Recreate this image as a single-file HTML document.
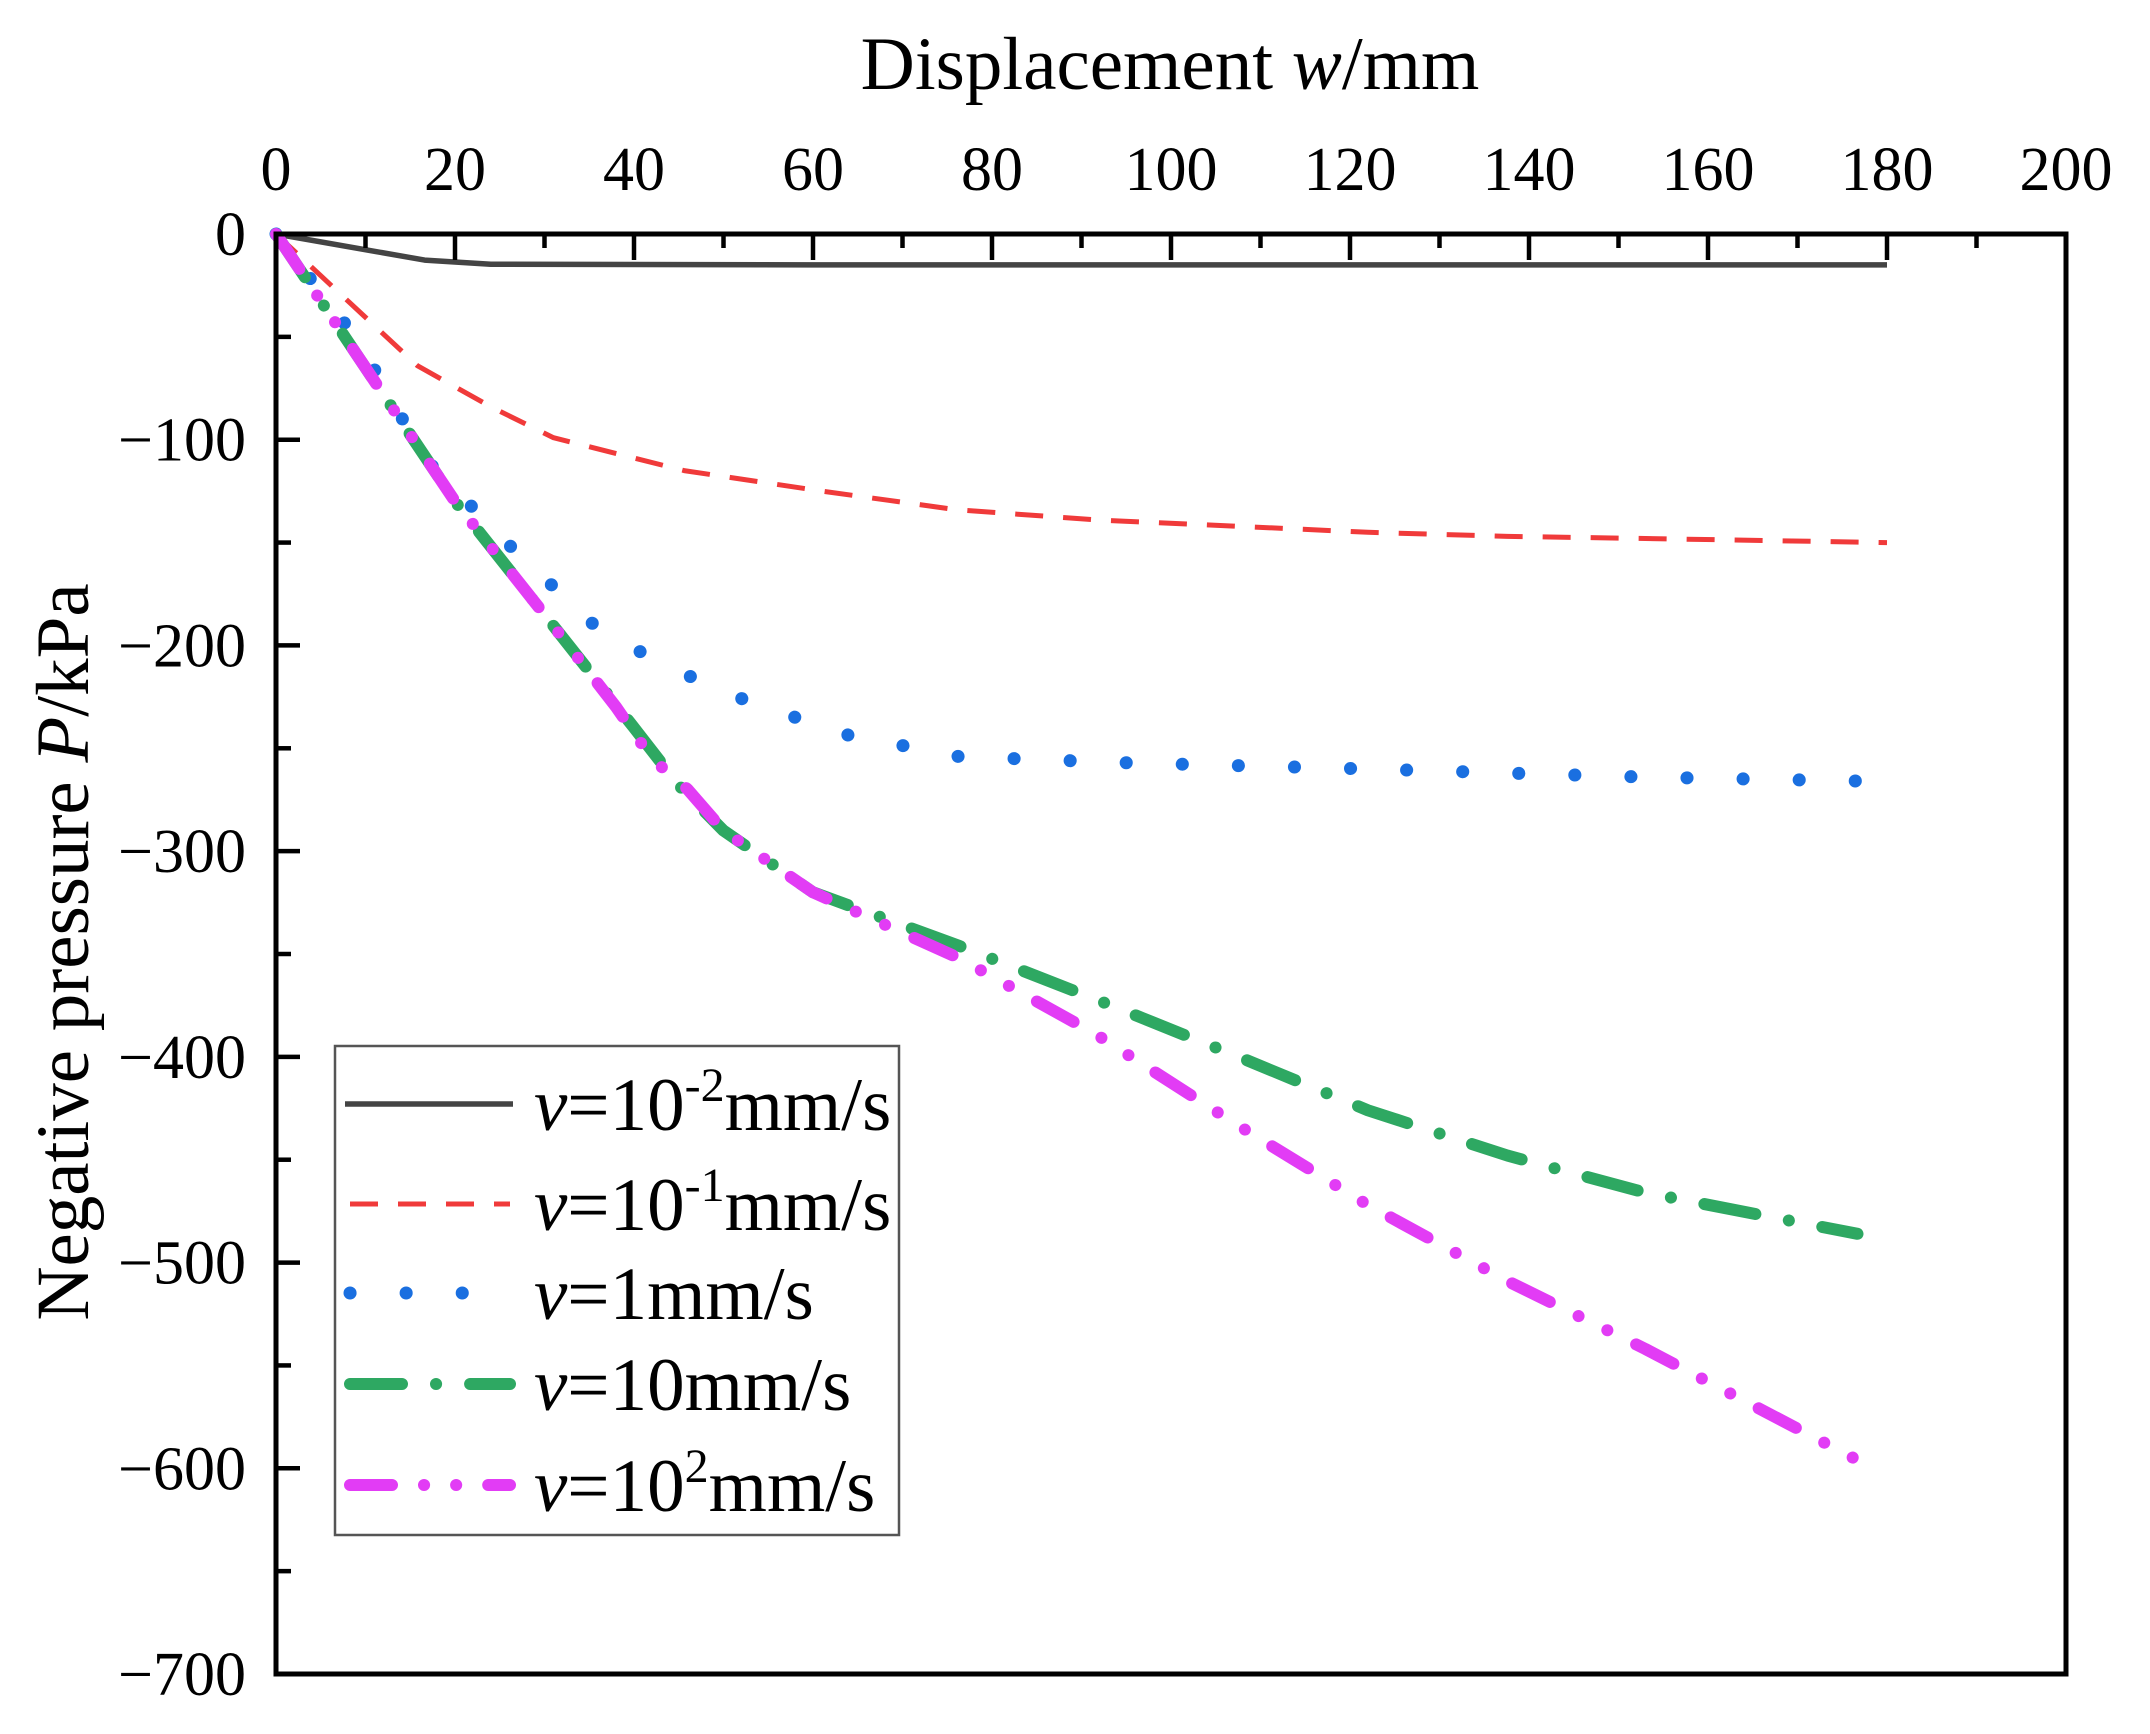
<!DOCTYPE html>
<html><head><meta charset="utf-8"><style>
html,body{margin:0;padding:0;background:#fff;}
svg{display:block;font-family:"Liberation Serif","DejaVu Serif",serif;}
</style></head><body>
<svg id="chart" width="2150" height="1734" viewBox="0 0 2150 1734" xmlns="http://www.w3.org/2000/svg">
<rect width="2150" height="1734" fill="#fff"/>
<g id="series"></g>
<g id="axes"></g>
<text x="1170" y="89" font-size="75" text-anchor="middle">Displacement <tspan font-style="italic">w</tspan>/mm</text>
<text transform="translate(88,952) rotate(-90)" font-size="75" text-anchor="middle">Negative pressure <tspan font-style="italic">P</tspan>/kPa</text>
<g id="legend"></g>
</svg>
<script>
const xTicks = [0,20,40,60,80,100,120,140,160,180,200];
const yTicks = [0,-100,-200,-300,-400,-500,-600,-700];
const seriesNames = ["v=10^-2","v=10^-1","v=1","v=10","v=10^2"];
const xBlack = [0,16.6,24,60,100,140,180];
const yBlack = [0,-12.7,-14.7,-15,-15,-15,-15];
const xRed = [0,15.8,24,31,45.6,61,76,91.6,107,122,137.6,153,180];
const yRed = [0,-64,-84,-99,-115,-125,-134,-139,-142,-145,-147,-148,-150];
const xBlue = [0,9.2,16.6,26,36.5,49.5,63.3,76.3,94.7,122,153,178];
const yBlue = [0,-52,-109,-151,-194,-222,-243,-254,-257,-260,-264,-266];
const xGreen = [0,12,20,30,40,45,50,60,76.3,91.6,107,122,137.6,153,176.7];
const yGreen = [0,-78,-130,-185,-240,-268,-290,-320,-346,-372,-399,-426,-448,-466,-486];
const xMag = [0,12,20,30,38,42,46,50,60,76.3,91.6,107,122,137.6,153,176.7];
const yMag = [0,-78,-130,-185,-230,-255,-270,-290,-320,-352,-389,-432,-472,-509,-542,-596];

const X0=276, X1=2066, Y0=234, Y1=1674;
const sx = v => X0 + (v-0)/(200-0)*(X1-X0);
const sy = v => Y0 + (0-v)/(700)*(Y1-Y0);
const NS="http://www.w3.org/2000/svg";
function mk(tag, attrs){const e=document.createElementNS(NS,tag);for(const k in attrs)e.setAttribute(k,attrs[k]);return e;}

const styles = [
 {c:"#444",w:5.5,d:"",cap:"butt"},
 {c:"#f03a3a",w:5,d:"28 20",cap:"butt"},
 {c:"#1a6fe0",w:13,d:"0.1 56",cap:"round"},
 {c:"#2ea862",w:12,d:"52 34 0.1 34",cap:"round"},
 {c:"#e23cf5",w:12,d:"42 32 0.1 32 0.1 32",cap:"round"}
];
const sdata = [[xBlack,yBlack],[xRed,yRed],[xBlue,yBlue],[xGreen,yGreen],[xMag,yMag]];
const snames = ["series-v-0.01","series-v-0.1","series-v-1","series-v-10","series-v-100"];
const sg=document.getElementById('series');
sdata.forEach((s,i)=>{
  const pts=s[0].map((x,j)=>sx(x).toFixed(1)+","+sy(s[1][j]).toFixed(1)).join(" ");
  const st=styles[i];
  const p=mk('polyline',{points:pts,fill:"none",stroke:st.c,"stroke-width":st.w,"stroke-dasharray":st.d,"stroke-linecap":st.cap,"stroke-linejoin":"round"});
  
  
  sg.appendChild(p);
});

const ag=document.getElementById('axes');
const frame=mk('rect',{x:X0,y:Y0,width:X1-X0,height:Y1-Y0,fill:"none",stroke:"#000","stroke-width":5});


ag.appendChild(frame);
for(let v=0;v<=200;v+=10){
  const major=v%20===0;
  const t=mk('line',{x1:sx(v),x2:sx(v),y1:Y0,y2:Y0+(major?26:14),stroke:"#000","stroke-width":4.5});
  
  
  ag.appendChild(t);
}
xTicks.forEach(v=>{
  const t=mk('text',{x:sx(v),y:190,"font-size":62,"text-anchor":"middle"});
  t.textContent=String(v);
  
  
  ag.appendChild(t);
});
for(let v=0;v>=-700;v-=50){
  const major=v%100===0;
  const t=mk('line',{x1:X0,x2:X0+(major?24:15),y1:sy(v),y2:sy(v),stroke:"#000","stroke-width":4.5});
  
  
  ag.appendChild(t);
}
yTicks.forEach(v=>{
  const t=mk('text',{x:246,y:sy(v)+21,"font-size":62,"text-anchor":"end"});
  t.textContent=v===0?"0":"\u2212"+Math.abs(v);
  
  
  ag.appendChild(t);
});

const lg=document.getElementById('legend');
const box=mk('rect',{x:335,y:1046,width:564,height:489,fill:"#fff",stroke:"#555","stroke-width":2.5});


lg.appendChild(box);
const rowY=[1104,1204,1293,1384,1485];
const labels=[["10","-2","mm/s"],["10","-1","mm/s"],["1","","mm/s"],["10","","mm/s"],["10","2","mm/s"]];
rowY.forEach((y,i)=>{
  const st=styles[i];
  const l=mk('line',{x1:i===0?345:350,x2:i===0?513:510,y1:y,y2:y,stroke:st.c,"stroke-width":st.w,"stroke-dasharray":st.d,"stroke-linecap":st.cap});
  
  
  lg.appendChild(l);
  const t=mk('text',{x:534,y:y+26,"font-size":75});
  const lb=labels[i];
  t.innerHTML='<tspan font-style="italic">v</tspan>='+lb[0]+(lb[1]?'<tspan font-size="48" dy="-29">'+lb[1]+'</tspan><tspan dy="29">'+lb[2]+'</tspan>':lb[2]);
  
  
  lg.appendChild(t);
});
</script>
</body></html>
